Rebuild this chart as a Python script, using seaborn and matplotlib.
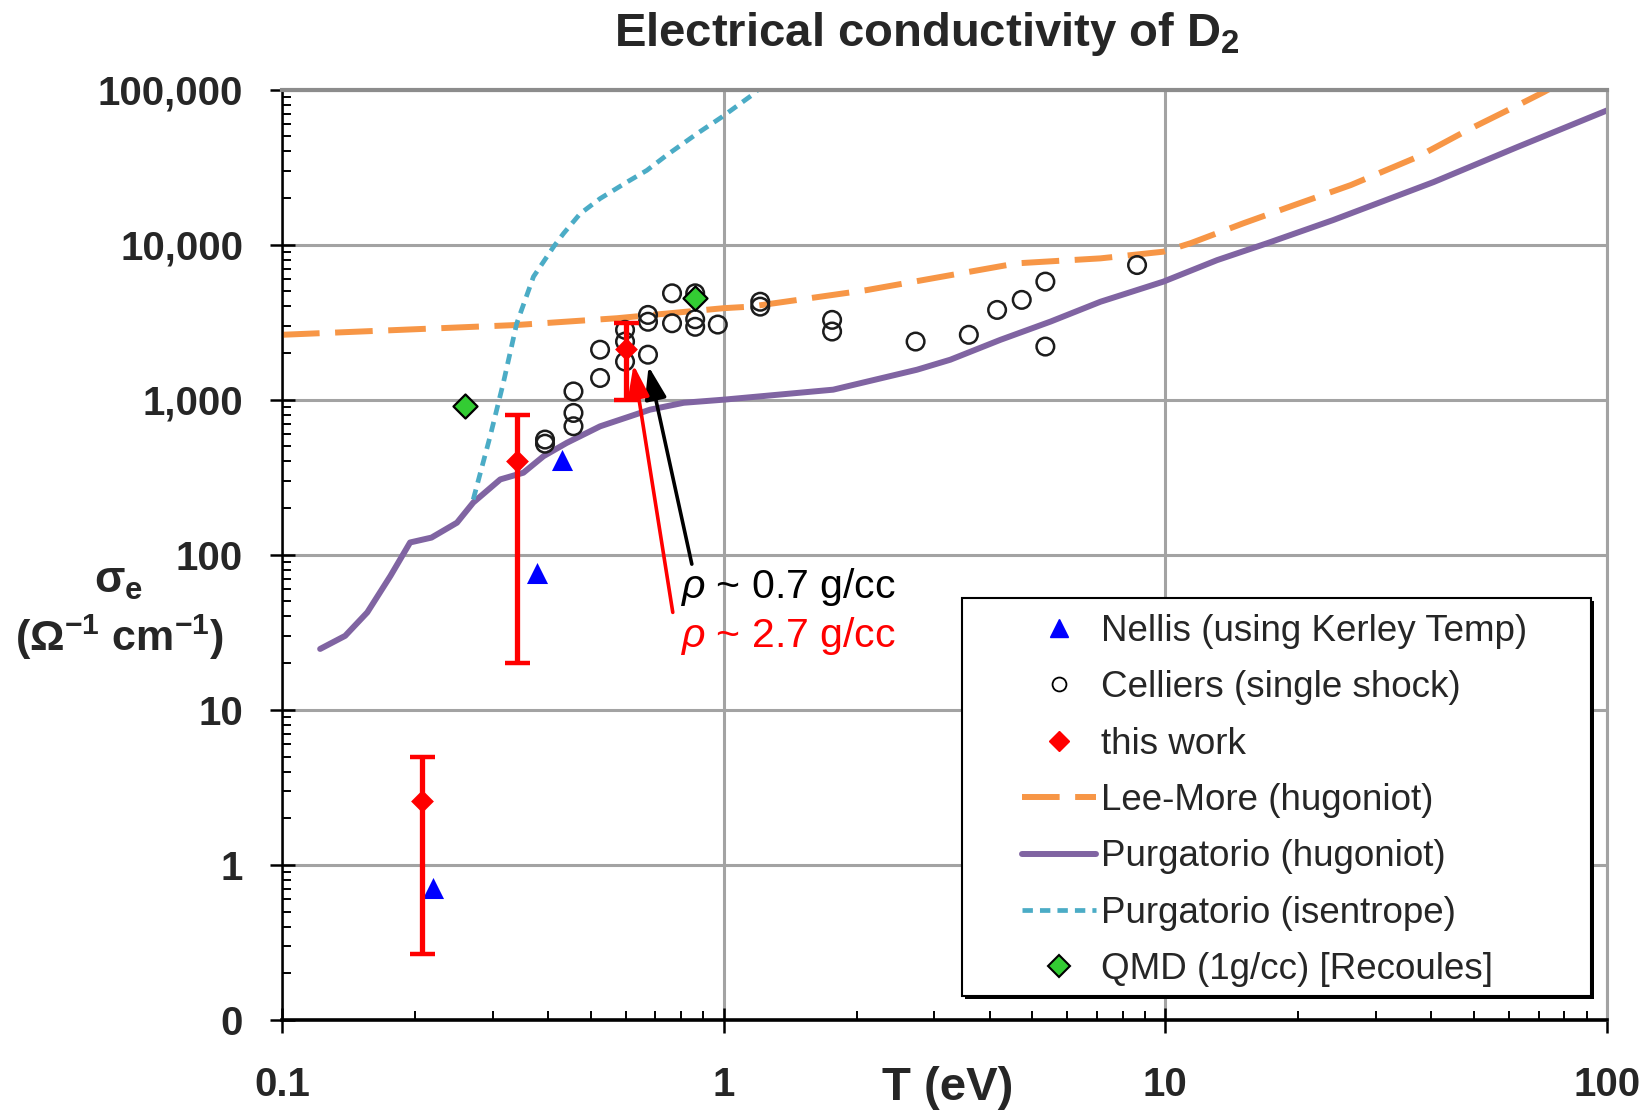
import numpy as np
import pandas as pd
import matplotlib
matplotlib.use("Agg")
import matplotlib.pyplot as plt
import seaborn as sns
from matplotlib.lines import Line2D
from matplotlib.patches import Rectangle
from matplotlib.ticker import LogLocator, NullFormatter

# ---------------- data ----------------
purg_hug_T = [0.122, 0.139, 0.156, 0.176, 0.195, 0.218, 0.249, 0.271, 0.312, 0.352,
              0.391, 0.441, 0.525, 0.681, 0.812, 1.0, 1.77, 2.74, 3.26, 4.23,
              5.5, 7.13, 9.9, 13.1, 17.0, 24.0, 40.5, 62.6, 100.0]
purg_hug_S = [24.7, 30, 42.5, 73, 120, 129, 161, 217, 306, 338,
              432, 526, 673, 862, 955, 1000, 1160, 1560, 1810, 2430,
              3190, 4280, 5770, 7940, 10200, 14400, 25300, 42500, 73300]

lee_more_T = [0.1, 0.34, 0.573, 1.0, 1.15, 2.11, 4.61, 7.13, 9.9, 11.4,
              15.0, 19.5, 26.3, 37.2, 48.2, 62.6, 71.9, 76.0]
lee_more_S = [2620, 3030, 3350, 3890, 3980, 5090, 7570, 8150, 9000, 10200,
              13700, 17900, 24200, 36700, 54500, 78800, 96200, 105000]

purg_isen_T = [0.271, 0.296, 0.317, 0.34, 0.371, 0.412, 0.434, 0.473, 0.525,
               0.604, 0.67, 0.743, 0.87, 0.99, 1.17, 1.20]
purg_isen_S = [227, 581, 1280, 3100, 6210, 9680, 11800, 15800, 19800,
               25300, 30100, 37700, 51900, 66400, 93800, 101000]

celliers_T = [0.764, 0.862, 0.674, 0.674, 0.764, 0.862, 0.862, 0.97, 0.598, 0.598,
              0.525, 0.598, 0.674, 0.525, 0.457, 0.457, 0.457, 0.394, 0.394,
              1.21, 1.21, 1.76, 1.76, 2.72, 3.59, 4.16, 4.73, 5.35, 5.35, 8.63]
celliers_S = [4850, 4850, 3520, 3180, 3110, 3300, 2950, 3050, 2820, 2370,
              2100, 1760, 1950, 1380, 1130, 821, 674, 553, 520,
              4280, 3980, 3270, 2750, 2370, 2620, 3790, 4400, 5770, 2200, 7380]

nellis_T = [0.43, 0.378, 0.22]
nellis_S = [411, 76.8, 0.706]

work_T = [0.207, 0.34, 0.601]
work_S = [2.6, 400, 2120]
work_lo = [0.266, 20, 1000]
work_hi = [5, 800, 3100]

qmd_T = [0.26, 0.862]
qmd_S = [915, 4510]

y_ticks = [0.1, 1, 10, 100, 1e3, 1e4, 1e5]
y_tick_labels = ["0", "1", "10", "100", "1,000", "10,000", "100,000"]
x_ticks = [0.1, 1, 10, 100]
x_tick_labels = ["0.1", "1", "10", "100"]

legend_labels = ["Nellis (using Kerley Temp)", "Celliers (single shock)", "this work",
                 "Lee-More (hugoniot)", "Purgatorio (hugoniot)",
                 "Purgatorio (isentrope)", "QMD (1g/cc) [Recoules]"]

# annotation arrows (tail -> tip), data coordinates
arrow_black_tail, arrow_black_tip = (0.847, 87), (0.676, 1640)
arrow_red_tail, arrow_red_tip = (0.767, 42.5), (0.625, 1680)

# ---------------- style ----------------
sns.set_style("white")
plt.rcParams["font.family"] = ["Liberation Sans", "DejaVu Sans"]
plt.rcParams["mathtext.fontset"] = "custom"
plt.rcParams["mathtext.rm"] = "Liberation Sans"
plt.rcParams["mathtext.it"] = "Liberation Sans:italic"
plt.rcParams["mathtext.bf"] = "Liberation Sans:bold"
plt.rcParams["mathtext.default"] = "regular"

PURPLE = "#8064A2"
ORANGE = "#F79646"
CYAN = "#4BACC6"
GRID = "#A3A3A3"

W, H = 1652, 1117
fig = plt.figure(figsize=(W / 100, H / 100), dpi=100)
ax = fig.add_axes([282 / W, 1 - 1020 / H, (1607 - 282) / W, (1020 - 89.5) / H])
ax.set_xscale("log")
ax.set_yscale("log")

# curves
sns.lineplot(x=purg_hug_T, y=purg_hug_S, color=PURPLE, linewidth=4.3,
             estimator=None, sort=False, ax=ax, zorder=2)
sns.lineplot(x=lee_more_T, y=lee_more_S, color=ORANGE, linewidth=4.3,
             linestyle=(0, (6.3, 2.6)), estimator=None, sort=False, ax=ax, zorder=2)
sns.lineplot(x=purg_isen_T, y=purg_isen_S, color=CYAN, linewidth=3.4,
             linestyle=(0, (2.2, 1.5)), estimator=None, sort=False, ax=ax, zorder=2)

# points
sns.scatterplot(x=celliers_T, y=celliers_S, marker="o", s=160, facecolor="none",
                edgecolor="#1c1c1c", linewidth=1.8, ax=ax, zorder=4)
sns.scatterplot(x=nellis_T, y=nellis_S, marker="^", s=230, color="#0000FF",
                edgecolor="#0000FF", linewidth=0, ax=ax, zorder=4)
lo_err = np.array(work_S) - np.array(work_lo)
hi_err = np.array(work_hi) - np.array(work_S)
ax.errorbar(work_T, work_S, yerr=[lo_err, hi_err], fmt="none", ecolor="#FF0000",
            elinewidth=3.8, capsize=9, capthick=3.2, zorder=5)
sns.scatterplot(x=work_T, y=work_S, marker="D", s=135, color="#FF0000",
                edgecolor="#FF0000", linewidth=0, ax=ax, zorder=6)
sns.scatterplot(x=qmd_T, y=qmd_S, marker="D", s=150, color="#33CC33",
                edgecolor="black", linewidth=1.6, ax=ax, zorder=6)

# axes
ax.set_xlim(0.1, 100)
ax.set_ylim(0.1, 1e5)
ax.set_xticks(x_ticks)
ax.set_xticklabels(x_tick_labels, fontsize=29, fontweight="bold")
ax.set_yticks(y_ticks)
ax.set_yticklabels(y_tick_labels, fontsize=29, fontweight="bold")
for axis in (ax.xaxis, ax.yaxis):
    axis.set_minor_locator(LogLocator(base=10, subs=np.arange(2, 10), numticks=20))
    axis.set_minor_formatter(NullFormatter())
ax.tick_params(which="both", bottom=True, left=True, top=False, right=False)
ax.tick_params(which="major", direction="inout", length=18, width=1.8, color="black")
ax.tick_params(axis="y", which="major", pad=19)
ax.tick_params(axis="x", which="major", pad=24)
ax.tick_params(which="minor", direction="in", length=6.5, width=1.4, color="black")
ax.grid(True, which="major", color=GRID, linewidth=2.2)
ax.grid(False, which="minor")
ax.set_axisbelow(True)
ax.spines["left"].set_color("black")
ax.spines["left"].set_linewidth(1.8)
ax.spines["bottom"].set_color("black")
ax.spines["bottom"].set_linewidth(2.6)
ax.spines["top"].set_color("#8C8C8C")
ax.spines["top"].set_linewidth(3.0)
ax.spines["right"].set_color(GRID)
ax.spines["right"].set_linewidth(2.2)
ax.set_xlabel("")
ax.set_ylabel("")

# annotations
ax.annotate("", xy=arrow_black_tip, xytext=arrow_black_tail,
            arrowprops=dict(arrowstyle="-|>,head_length=0.9,head_width=0.3",
                            color="black", lw=2.6, mutation_scale=22,
                            shrinkA=0, shrinkB=0), zorder=7)
ax.annotate("", xy=arrow_red_tip, xytext=arrow_red_tail,
            arrowprops=dict(arrowstyle="-|>,head_length=0.9,head_width=0.3",
                            color="#FF0000", lw=2.6, mutation_scale=22,
                            shrinkA=0, shrinkB=0), zorder=7)
fig.text(680 / W, 1 - 587 / H, r"$\mathit{\rho}$ ~ 0.7 g/cc", fontsize=29.5,
         color="black", ha="left", va="center")
fig.text(680 / W, 1 - 636 / H, r"$\mathit{\rho}$ ~ 2.7 g/cc", fontsize=29.5,
         color="#FF0000", ha="left", va="center")

# titles / labels
fig.text(927 / W, 1 - 34 / H, "Electrical conductivity of D$_2$", fontsize=34,
         fontweight="bold", ha="center", va="center")
fig.text(948 / W, 1 - 1088 / H, "T (eV)", fontsize=34, fontweight="bold",
         ha="center", va="center")
fig.text(119 / W, 1 - 582 / H, "σ$_e$", fontsize=32, fontweight="bold",
         ha="center", va="center")
fig.text(119 / W, 1 - 637 / H, "(Ω$^{-1}$ cm$^{-1}$)", fontsize=31, fontweight="bold",
         ha="center", va="center")

# legend box (with slight shadow) and legend
shadow = Rectangle((965 / W, 1 - 999 / H), 629 / W, 398 / H, transform=fig.transFigure,
                   facecolor="black", edgecolor="black", lw=0, zorder=8)
box = Rectangle((962 / W, 1 - 996 / H), 629 / W, 398 / H, transform=fig.transFigure,
                facecolor="white", edgecolor="black", lw=1.5, zorder=9)
ax.add_artist(shadow)
ax.add_artist(box)
handles = [
    Line2D([], [], ls="none", marker="^", color="#0000FF", markersize=13),
    Line2D([], [], ls="none", marker="o", markerfacecolor="white",
           markeredgecolor="black", markeredgewidth=1.3, markersize=10),
    Line2D([], [], ls="none", marker="D", color="#FF0000", markersize=10),
    Line2D([], [], color=ORANGE, lw=4.3, linestyle=(0, (6.3, 2.6))),
    Line2D([], [], color=PURPLE, lw=4.3),
    Line2D([], [], color=CYAN, lw=3.4, linestyle=(0, (2.2, 1.5))),
    Line2D([], [], ls="none", marker="D", markerfacecolor="#33CC33",
           markeredgecolor="black", markeredgewidth=1.5, markersize=11),
]
leg = ax.legend(handles, legend_labels, loc="upper left",
                bbox_to_anchor=(1022 / W, 1 - 614 / H), bbox_transform=fig.transFigure,
                frameon=False, fontsize=26.5, handlelength=2.0, handletextpad=0.15,
                labelspacing=0.58, borderpad=0, borderaxespad=0)
leg.set_zorder(10)

fig.savefig("out.png", dpi=100)
